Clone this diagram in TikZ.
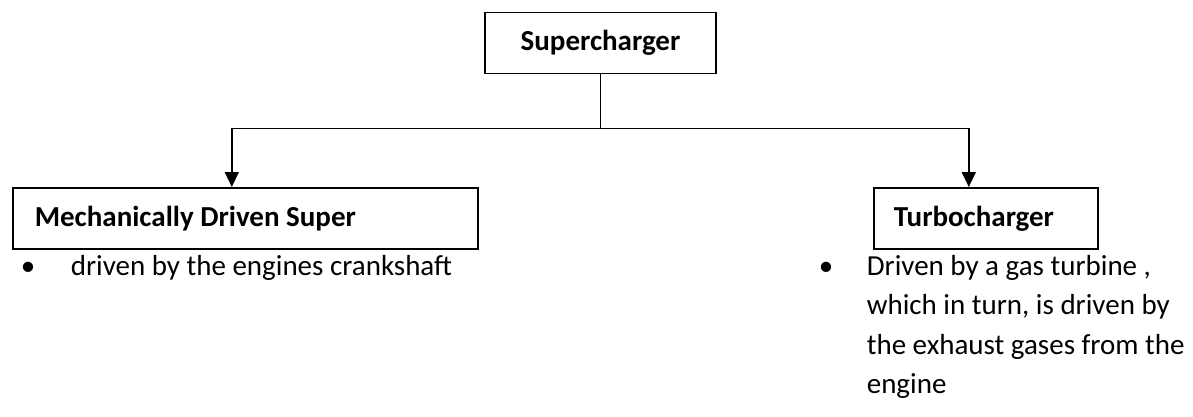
\documentclass[tikz,border=0pt]{standalone}
\usepackage{fontspec}
\setmainfont{Carlito}
\usetikzlibrary{arrows.meta}
\begin{document}
\begin{tikzpicture}[x=1pt, y=-1pt, line width=1.6pt, font=\fontsize{29}{39.5}\selectfont]
        \tikzstyle{hbox} = [draw, rectangle, minimum height=61pt, inner ysep=0pt, font=\fontsize{29}{39.5}\selectfont\bfseries]
        \tikzstyle{item} = [inner sep=0pt, anchor=base west, align=flush left]
        \tikzstyle{dot} = [inner sep=0pt, anchor=base]
        \useasboundingbox (0,0) rectangle (1193,416);
        \node[hbox, minimum width=231pt, align=center] (sc) at (600.5, 43) {Supercharger};
        \node[hbox, anchor=north west, inner xsep=22pt, text width=421pt, align=flush left] (mech) at (12, 187) {Mechanically Driven Super};
        \node[hbox, anchor=north west, inner xsep=20pt, text width=184pt, align=flush left] (turbo) at (873, 187) {Turbocharger};
        \node[item] (mechtxt) at (70, 275) {driven by the engines crankshaft};
        \node[dot] (mechdot) at (28, 275) {•};
        \node[item, text width=325pt] (turbotxt) at (866, 275) {Driven by a gas turbine ,\\ which in turn, is driven by\\ the exhaust gases from the\\ engine};
        \node[dot] (turbodot) at (826, 275) {•};
        \coordinate (split) at ([yshift=-54pt]sc.south);
        \draw (sc.south) -- (split);
        \draw[-{Triangle[length=15pt, width=14pt]}] (split) -| ([xshift=-13.5pt]mech.north);
        \draw[-{Triangle[length=15pt, width=14pt]}] (split) -| ([xshift=-17pt]turbo.north);
      \end{tikzpicture}
\end{document}
